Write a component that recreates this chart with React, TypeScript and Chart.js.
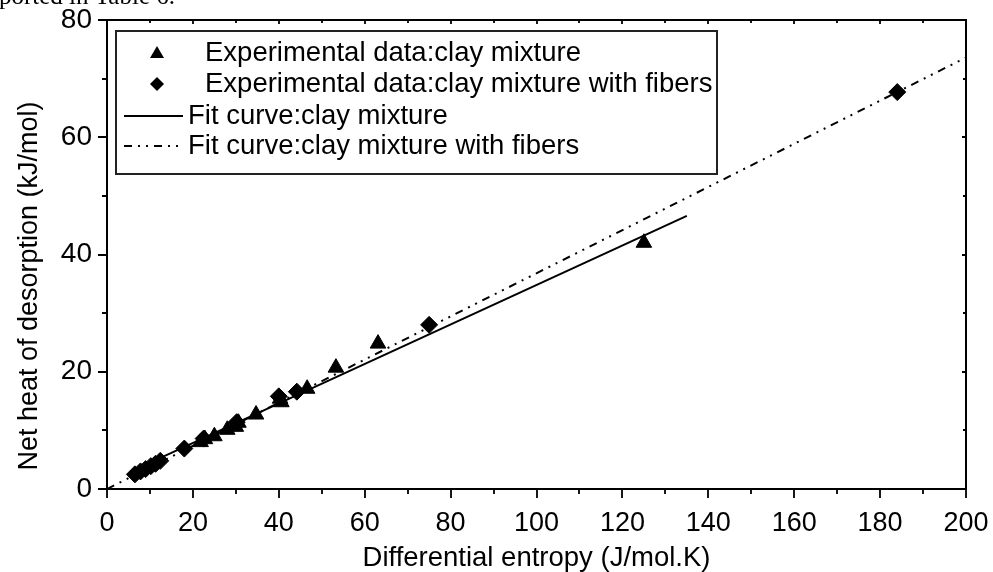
import React, { useEffect, useRef } from 'react';
import { Chart, registerables } from 'chart.js';

Chart.register(...registerables);

// ---- Data ----
const clayX = [21.8, 22.8, 25.0, 28.0, 30.0, 30.6, 34.7, 40.3, 40.6, 46.6, 53.3, 63.1, 125.0];
const clayY = [8.0, 8.5, 9.0, 10.1, 10.6, 11.3, 12.7, 15.4, 14.8, 17.1, 20.7, 24.8, 42.0];

const fiberX = [6.5, 7.8, 9.0, 10.2, 11.3, 12.4, 18.0, 22.5, 30.2, 40.0, 44.2, 75.0, 184.0];
const fiberY = [2.5, 3.0, 3.4, 3.9, 4.3, 4.8, 6.9, 8.6, 11.4, 15.8, 16.6, 28.0, 67.7];

const fitClayX = [6.5, 135];
const fitClayY = [3.3, 46.6];

const fitFiberX = [0, 200];
const fitFiberY = [0, 73.6];

const xMajorTicks = [0, 20, 40, 60, 80, 100, 120, 140, 160, 180, 200];
const xMinorTicks = [10, 30, 50, 70, 90, 110, 130, 150, 170, 190];
const yMajorTicks = [0, 20, 40, 60, 80];
const yMinorTicks = [10, 30, 50, 70];

const seriesLabels = [
  'Experimental data:clay mixture',
  'Experimental data:clay mixture with fibers',
  'Fit curve:clay mixture',
  'Fit curve:clay mixture with fibers',
];

const xTitle = 'Differential entropy (J/mol.K)';
const yTitle = 'Net heat of desorption (kJ/mol)';
const pageText = 'ported in Table 6.';

const FONT = "'Liberation Sans', Arial, Helvetica, sans-serif";
const FIBER_DASH = [8, 6, 2, 6, 2, 6];

const toPoints = (xs: number[], ys: number[]) => xs.map((x, i) => ({ x, y: ys[i] }));

const framePlugin = {
  id: 'framePlugin',
  afterDatasetsDraw(chart: any) {
    const { ctx, chartArea, scales } = chart;
    const { left, right, top, bottom } = chartArea;
    const xs = scales.x;
    const ys = scales.y;
    ctx.save();
    ctx.strokeStyle = '#000';
    ctx.lineWidth = 2;
    ctx.strokeRect(left, top, right - left, bottom - top);
    ctx.lineWidth = 1.8;
    ctx.beginPath();
    xMajorTicks.forEach((v) => {
      const p = Math.round(xs.getPixelForValue(v));
      ctx.moveTo(p, bottom);
      ctx.lineTo(p, bottom + 9);
      ctx.moveTo(p, top);
      ctx.lineTo(p, top + 4);
    });
    xMinorTicks.forEach((v) => {
      const p = Math.round(xs.getPixelForValue(v));
      ctx.moveTo(p, bottom);
      ctx.lineTo(p, bottom + 5);
      ctx.moveTo(p, top);
      ctx.lineTo(p, top + 3);
    });
    yMajorTicks.forEach((v) => {
      const p = Math.round(ys.getPixelForValue(v));
      ctx.moveTo(left, p);
      ctx.lineTo(left - 9, p);
      ctx.moveTo(right, p);
      ctx.lineTo(right - 4, p);
    });
    yMinorTicks.forEach((v) => {
      const p = Math.round(ys.getPixelForValue(v));
      ctx.moveTo(left, p);
      ctx.lineTo(left - 5, p);
      ctx.moveTo(right, p);
      ctx.lineTo(right - 3, p);
    });
    ctx.stroke();
    ctx.restore();
  },
  afterDraw(chart: any) {
    const { ctx } = chart;
    ctx.save();
    // cropped page text at the very top
    ctx.fillStyle = '#000';
    ctx.font = "25px 'Liberation Serif', 'Times New Roman', serif";
    ctx.textBaseline = 'alphabetic';
    ctx.textAlign = 'left';
    ctx.fillText(pageText, -1, 4);

    // y axis title
    ctx.save();
    ctx.translate(30, 286);
    ctx.rotate(-Math.PI / 2);
    ctx.font = `27px ${FONT}`;
    ctx.textAlign = 'center';
    ctx.textBaseline = 'middle';
    ctx.fillText(yTitle, 0, 0);
    ctx.restore();

    // legend box
    const bx = 116, by = 31, bw = 601, bh = 143;
    ctx.fillStyle = '#fff';
    ctx.fillRect(bx, by, bw, bh);
    ctx.strokeStyle = '#222';
    ctx.lineWidth = 2;
    ctx.strokeRect(bx, by, bw, bh);

    const rowY = [53, 84, 116, 146];
    ctx.fillStyle = '#000';
    ctx.font = `27.5px ${FONT}`;
    ctx.textBaseline = 'middle';
    ctx.textAlign = 'left';

    // triangle
    const tx = 157;
    ctx.beginPath();
    ctx.moveTo(tx, rowY[0] - 7);
    ctx.lineTo(tx + 7, rowY[0] + 5);
    ctx.lineTo(tx - 7, rowY[0] + 5);
    ctx.closePath();
    ctx.fill();
    // diamond
    ctx.beginPath();
    ctx.moveTo(tx, rowY[1] - 7);
    ctx.lineTo(tx + 7, rowY[1]);
    ctx.lineTo(tx, rowY[1] + 7);
    ctx.lineTo(tx - 7, rowY[1]);
    ctx.closePath();
    ctx.fill();
    // solid
    ctx.strokeStyle = '#000';
    ctx.lineWidth = 2;
    ctx.beginPath();
    ctx.moveTo(124, rowY[2]);
    ctx.lineTo(183, rowY[2]);
    ctx.stroke();
    // dash-dot-dot
    ctx.setLineDash(FIBER_DASH);
    ctx.beginPath();
    ctx.moveTo(124, rowY[3]);
    ctx.lineTo(183, rowY[3]);
    ctx.stroke();
    ctx.setLineDash([]);

    ctx.fillText(seriesLabels[0], 205, rowY[0]);
    ctx.fillText(seriesLabels[1], 205, rowY[1]);
    ctx.fillText(seriesLabels[2], 188, rowY[2]);
    ctx.fillText(seriesLabels[3], 188, rowY[3]);
    ctx.restore();
  },
};

export default function App() {
  const canvasRef = useRef<HTMLCanvasElement | null>(null);

  useEffect(() => {
    const canvas = canvasRef.current;
    if (!canvas) return;
    const chart = new Chart(canvas, {
      type: 'scatter',
      data: {
        datasets: [
          {
            label: seriesLabels[0],
            data: toPoints(clayX, clayY),
            pointStyle: 'triangle',
            pointRadius: 9,
            backgroundColor: '#000',
            borderColor: '#000',
            borderWidth: 1,
            showLine: false,
          },
          {
            label: seriesLabels[1],
            data: toPoints(fiberX, fiberY),
            pointStyle: 'rectRot',
            pointRadius: 8.5,
            backgroundColor: '#000',
            borderColor: '#000',
            borderWidth: 1,
            showLine: false,
          },
          {
            label: seriesLabels[2],
            type: 'line',
            data: toPoints(fitClayX, fitClayY),
            borderColor: '#000',
            borderWidth: 2,
            pointRadius: 0,
            fill: false,
          } as any,
          {
            label: seriesLabels[3],
            type: 'line',
            data: toPoints(fitFiberX, fitFiberY),
            borderColor: '#000',
            borderWidth: 2,
            borderDash: FIBER_DASH,
            pointRadius: 0,
            fill: false,
          } as any,
        ],
      },
      options: {
        animation: false,
        responsive: false,
        maintainAspectRatio: false,
        events: [],
        layout: { padding: { left: 0, right: 27, top: 20, bottom: 0 } },
        plugins: {
          legend: { display: false },
          tooltip: { enabled: false },
          title: { display: false },
        },
        scales: {
          x: {
            type: 'linear',
            min: 0,
            max: 200,
            afterBuildTicks: (s: any) => {
              s.ticks = xMajorTicks.map((v) => ({ value: v }));
            },
            afterFit: (s: any) => {
              s.height = 83;
              s.paddingLeft = 0;
              s.paddingRight = 0;
            },
            grid: { display: false, drawTicks: false },
            border: { display: false },
            ticks: {
              color: '#000',
              padding: 18,
              maxRotation: 0,
              autoSkip: false,
              font: { family: FONT, size: 27 },
            },
            title: {
              display: true,
              text: xTitle,
              color: '#000',
              font: { family: FONT, size: 27.5, lineHeight: 1 },
              padding: { top: 0, bottom: 0 },
            },
          },
          y: {
            type: 'linear',
            min: 0,
            max: 80,
            afterBuildTicks: (s: any) => {
              s.ticks = yMajorTicks.map((v) => ({ value: v }));
            },
            afterFit: (s: any) => {
              s.width = 107;
              s.paddingTop = 0;
              s.paddingBottom = 0;
            },
            grid: { display: false, drawTicks: false },
            border: { display: false },
            ticks: {
              color: '#000',
              padding: 15,
              autoSkip: false,
              font: { family: FONT, size: 28 },
            },
            title: { display: false },
          },
        },
      },
      plugins: [framePlugin],
    });
    return () => chart.destroy();
  }, []);

  return (
    <div style={{ position: 'fixed', left: 0, top: 0, width: 993, height: 572, background: '#fff' }}>
      <canvas ref={canvasRef} width={993} height={572} style={{ display: 'block', width: 993, height: 572 }} />
    </div>
  );
}
